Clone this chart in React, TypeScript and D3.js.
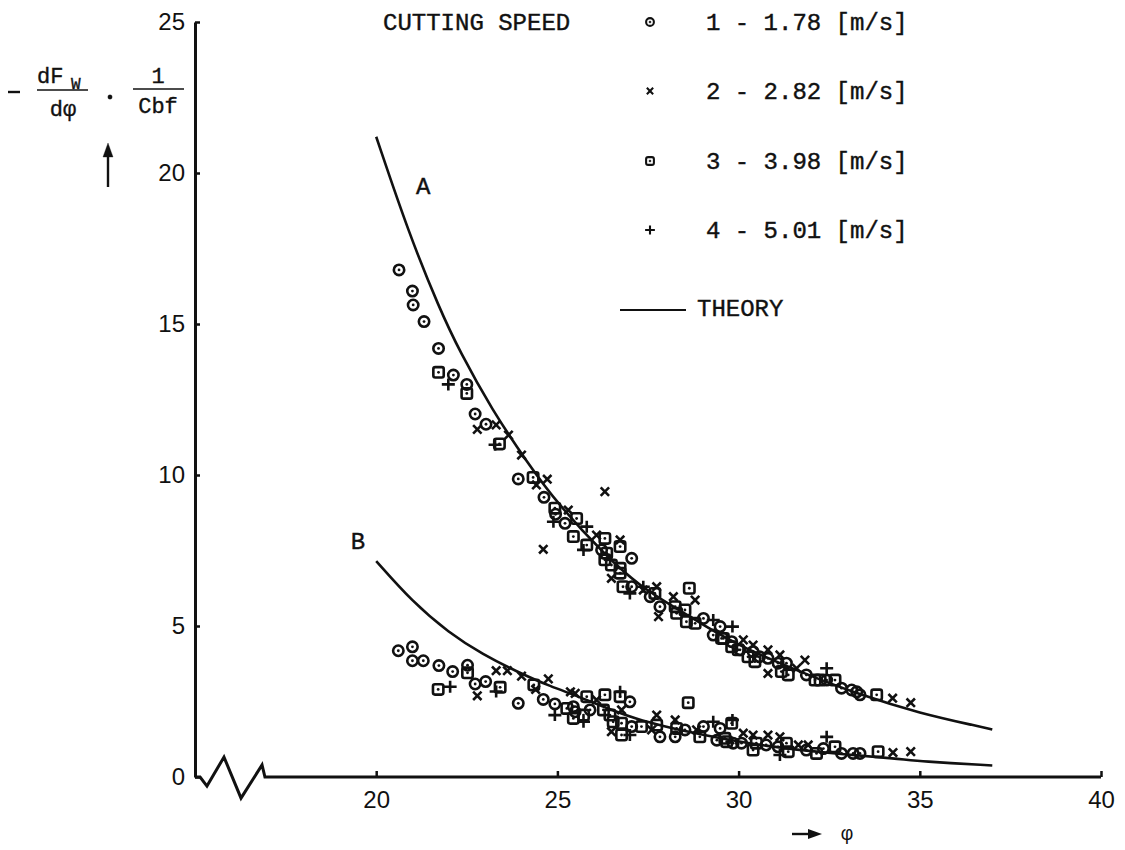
import React, { useEffect, useRef } from "react";
import * as d3 from "d3";

type Pt = [number, number];

const xTicks = [20, 25, 30, 35, 40];
const yTicks = [0, 5, 10, 15, 20, 25];

const speedLabels = ["1 - 1.78 [m/s]", "2 - 2.82 [m/s]", "3 - 3.98 [m/s]", "4 - 5.01 [m/s]"];

// theory curves A and B
const theoryA: Pt[] = [
  [20, 21.2], [20.9, 18.0], [21.75, 15.5], [22.3, 14.1], [23.2, 12.15], [24.15, 10.45],
  [25.0, 9.05], [26.35, 7.3], [27.3, 6.3], [28.2, 5.64], [29.1, 4.98], [30.0, 4.35],
  [31.8, 3.43], [33.35, 2.72], [35.0, 2.11], [36.65, 1.67], [37.0, 1.57],
];
const theoryB: Pt[] = [
  [20, 7.15], [21.0, 5.8], [22.0, 4.78], [22.95, 4.05], [23.9, 3.48], [24.8, 3.0],
  [25.7, 2.62], [27.1, 1.9], [28.95, 1.4], [30.8, 1.0], [32.6, 0.78], [34.45, 0.6],
  [35.0, 0.52], [37.0, 0.38],
];

// 1 - 1.78 m/s (circles)
const speed1: Pt[] = [
  [20.63, 16.79], [21.0, 16.09], [21.02, 15.63], [21.32, 15.08], [21.72, 14.19], [22.13, 13.31],
  [22.5, 13.0], [22.73, 12.02], [23.03, 11.68], [23.92, 9.87], [24.63, 9.26], [24.95, 8.7],
  [25.21, 8.4], [26.22, 7.52], [27.05, 7.24], [27.05, 6.3], [27.56, 5.97], [27.83, 5.64],
  [29.03, 5.25], [29.3, 4.7], [29.81, 4.48], [29.49, 4.98], [30.04, 4.21], [30.4, 4.15],
  [30.58, 3.98], [30.81, 3.93], [31.09, 3.77], [31.32, 3.77], [31.87, 3.38], [32.43, 3.21],
  [32.84, 2.94], [33.12, 2.88], [33.26, 2.82], [33.35, 2.72],
  [20.61, 4.18], [21.0, 4.31], [21.0, 3.85], [21.3, 3.85], [21.73, 3.69], [22.11, 3.49],
  [22.52, 3.7], [22.73, 3.08], [23.02, 3.16], [23.92, 2.44], [24.61, 2.57], [24.93, 2.42],
  [25.44, 2.33], [25.49, 2.16], [25.9, 2.22], [27.0, 2.49], [27.05, 1.67], [27.83, 1.33],
  [28.25, 1.33], [28.52, 1.56], [29.03, 1.67], [29.4, 1.22], [29.49, 1.61], [29.85, 1.12],
  [30.08, 1.12], [30.76, 1.06], [31.09, 1.0], [31.87, 0.89], [32.34, 0.94], [32.84, 0.78],
  [33.16, 0.78], [33.35, 0.78],
];

// 2 - 2.82 m/s (crosses)
const speed2: Pt[] = [
  [22.79, 11.51], [23.31, 11.66], [23.65, 11.32], [24.01, 10.66], [24.42, 9.67], [24.72, 9.86],
  [26.31, 9.45], [24.61, 7.54], [25.3, 8.84], [26.08, 8.01], [26.73, 7.85], [26.49, 6.58],
  [27.37, 6.19], [27.74, 6.3], [27.79, 5.31], [28.2, 5.97], [28.8, 5.86], [30.13, 4.54],
  [30.4, 4.37], [30.81, 4.21], [30.81, 3.43], [31.14, 4.04], [31.6, 3.6], [31.83, 3.87],
  [34.25, 2.61], [34.75, 2.46],
  [22.79, 2.69], [23.31, 3.52], [23.62, 3.52], [24.01, 3.34], [24.4, 2.9], [24.75, 3.25],
  [25.36, 2.82], [25.49, 2.77], [26.08, 2.55], [26.77, 2.22], [26.49, 1.5], [27.74, 2.05],
  [27.6, 1.56], [28.25, 1.89], [28.84, 1.56], [30.13, 1.45], [30.4, 1.39], [30.81, 1.39],
  [31.14, 1.33], [31.65, 1.06], [31.92, 1.06], [34.26, 0.81], [34.75, 0.84],
];

// 3 - 3.98 m/s (squares)
const speed3: Pt[] = [
  [21.72, 13.4], [22.5, 12.7], [23.4, 11.03], [24.33, 9.92], [24.93, 8.9], [25.53, 8.56],
  [25.44, 7.96], [25.81, 7.68], [26.31, 7.9], [26.73, 7.63], [26.36, 7.41], [26.31, 7.19],
  [26.49, 7.02], [26.73, 6.91], [26.73, 6.75], [26.81, 6.3], [27.69, 6.08], [28.25, 5.64],
  [28.29, 5.42], [28.52, 5.53], [28.64, 6.25], [28.56, 5.14], [28.8, 5.09], [29.53, 4.59],
  [29.99, 4.21], [29.58, 4.59], [29.81, 4.31], [30.26, 3.98], [30.45, 3.82], [31.18, 3.49],
  [31.37, 3.38], [32.11, 3.21], [32.25, 3.21], [32.66, 3.21], [33.81, 2.72],
  [21.71, 2.9], [22.52, 3.45], [23.42, 2.97], [24.35, 3.05], [25.26, 2.27], [25.81, 2.66],
  [25.72, 2.05], [25.44, 1.94], [26.31, 2.72], [26.27, 2.22], [26.45, 2.05], [26.73, 2.66],
  [26.54, 1.83], [26.77, 1.78], [26.77, 1.39], [27.32, 1.67], [27.74, 1.72], [28.29, 1.61],
  [28.61, 2.46], [28.93, 1.33], [29.81, 1.78], [29.67, 1.17], [29.62, 1.28], [30.49, 1.12],
  [30.4, 0.89], [31.32, 1.12], [31.37, 0.84], [32.15, 0.78], [32.66, 1.0], [33.85, 0.84],
];

// 4 - 5.01 m/s (plus)
const speed4: Pt[] = [
  [21.99, 13.0], [23.28, 11.0], [24.89, 8.45], [25.81, 8.29], [25.72, 7.52], [27.0, 6.08],
  [27.37, 6.3], [29.3, 5.2], [29.83, 4.98], [32.43, 3.6],
  [22.04, 2.99], [23.31, 2.83], [24.93, 2.05], [25.72, 1.83], [26.73, 2.82], [27.0, 1.39],
  [29.3, 1.83], [29.83, 1.89], [31.14, 0.73], [32.43, 1.33],
];

// zigzag break on the x axis, in axis units
const axisBreak: Pt[] = [
  [15, 0], [15.14, 0], [15.33, -0.3], [15.8, 0.66], [16.27, -0.7], [16.85, 0.4], [16.93, 0],
];

const INK = "#111";
const MONO = "'Liberation Mono', 'DejaVu Sans Mono', monospace";
const SANS = "'Liberation Sans', Arial, sans-serif";

type Sel = d3.Selection<SVGGElement, unknown, null, undefined>;

function drawMarker(g: Sel, kind: number, s: number) {
  const sw = 2.6 * Math.max(s, 0.8);
  if (kind === 0) {
    g.append("circle").attr("r", 5.2 * s).attr("fill", "none").attr("stroke", INK).attr("stroke-width", sw);
    g.append("circle").attr("r", 1.4 * s).attr("fill", INK);
  } else if (kind === 1) {
    const a = 4.2 * s;
    g.append("path")
      .attr("d", `M${-a},${-a}L${a},${a}M${-a},${a}L${a},${-a}`)
      .attr("stroke", INK).attr("stroke-width", sw);
  } else if (kind === 2) {
    const a = 5.2 * s;
    g.append("rect").attr("x", -a).attr("y", -a).attr("width", 2 * a).attr("height", 2 * a)
      .attr("rx", 2).attr("fill", "none").attr("stroke", INK).attr("stroke-width", sw);
    g.append("circle").attr("r", 1.4 * s).attr("fill", INK);
  } else {
    const w = 6.5 * s, h = 6 * s;
    g.append("path")
      .attr("d", `M${-w},0H${w}M0,${-h}V${h}`)
      .attr("stroke", INK).attr("stroke-width", sw);
  }
}

export default function App() {
  const ref = useRef<SVGSVGElement>(null);

  useEffect(() => {
    const svg = d3.select(ref.current);
    svg.selectAll("*").remove();

    const x = d3.scaleLinear().domain([15, 40]).range([195, 1101]);
    const y = d3.scaleLinear().domain([0, 25]).range([777, 22]);

    // y axis
    const yAxis = svg.append("g")
      .attr("transform", `translate(${x(15)},0)`)
      .call(d3.axisLeft(y).tickValues(yTicks).tickSizeInner(-5).tickSizeOuter(0).tickPadding(10));
    yAxis.select(".domain").attr("stroke", INK).attr("stroke-width", 3);
    yAxis.selectAll(".tick line").attr("stroke", INK).attr("stroke-width", 2.5);
    yAxis.selectAll(".tick text").attr("font-family", SANS).attr("font-size", 24).attr("fill", INK);

    // x axis, the domain is drawn separately because of the break
    const xAxis = svg.append("g")
      .attr("transform", `translate(0,${y(0)})`)
      .call(d3.axisBottom(x).tickValues(xTicks).tickSizeInner(-6).tickSizeOuter(0).tickPadding(14));
    xAxis.select(".domain").remove();
    xAxis.selectAll(".tick line").attr("stroke", INK).attr("stroke-width", 2.5);
    xAxis.selectAll(".tick text").attr("font-family", SANS).attr("font-size", 24).attr("fill", INK);

    const line = d3.line<Pt>().x((d) => x(d[0])).y((d) => y(d[1]));
    svg.append("path")
      .attr("d", line([...axisBreak, [40, 0]]))
      .attr("fill", "none").attr("stroke", INK).attr("stroke-width", 3)
      .attr("stroke-linejoin", "miter");

    // theory curves
    const curve = d3.line<Pt>().x((d) => x(d[0])).y((d) => y(d[1])).curve(d3.curveBasis);
    [theoryA, theoryB].forEach((c) => {
      svg.append("path").attr("d", curve(c)).attr("fill", "none")
        .attr("stroke", INK).attr("stroke-width", 2.6);
    });

    // measured points
    [speed1, speed2, speed3, speed4].forEach((data, k) => {
      data.forEach((d) => {
        const g = svg.append("g").attr("transform", `translate(${x(d[0])},${y(d[1])})`) as unknown as Sel;
        drawMarker(g, k, 1);
      });
    });

    // curve labels
    const lab = svg.append("g").attr("font-family", MONO).attr("font-size", 24)
      .attr("fill", INK).attr("stroke", INK).attr("stroke-width", 0.4);
    lab.append("text").attr("x", x(21.1)).attr("y", y(19.3)).text("A");
    lab.append("text").attr("x", x(19.3)).attr("y", y(7.55)).text("B");

    // legend
    const leg = svg.append("g").attr("font-family", MONO).attr("font-size", 24)
      .attr("fill", INK).attr("stroke", INK).attr("stroke-width", 0.4);
    leg.append("text").attr("x", 383).attr("y", 22).attr("dy", "0.35em").text("CUTTING SPEED");
    const rowY = [22, 91, 161, 230];
    speedLabels.forEach((t, i) => {
      const g = leg.append("g").attr("transform", `translate(650,${rowY[i]})`) as unknown as Sel;
      drawMarker(g, i, 0.75);
      leg.append("text").attr("x", 706).attr("y", rowY[i]).attr("dy", "0.35em").text(t);
    });
    leg.append("line").attr("x1", 620).attr("x2", 686).attr("y1", 310).attr("y2", 310)
      .attr("stroke", INK).attr("stroke-width", 2);
    leg.append("text").attr("x", 697).attr("y", 308).attr("dy", "0.35em").text("THEORY");

    // y axis label
    const yl = svg.append("g").attr("font-family", MONO).attr("fill", INK)
      .attr("stroke", INK).attr("stroke-width", 0.35);
    yl.append("line").attr("x1", 8).attr("x2", 20).attr("y1", 92).attr("y2", 92)
      .attr("stroke", INK).attr("stroke-width", 2.4);
    yl.append("text").attr("x", 37).attr("y", 83).attr("font-size", 22).text("dF");
    yl.append("text").attr("x", 71).attr("y", 89).attr("font-size", 16).text("W");
    yl.append("line").attr("x1", 37).attr("x2", 88).attr("y1", 90).attr("y2", 90)
      .attr("stroke", INK).attr("stroke-width", 1.6);
    yl.append("text").attr("x", 63).attr("y", 116).attr("text-anchor", "middle").attr("font-size", 22).text("dφ");
    yl.append("circle").attr("cx", 110).attr("cy", 97).attr("r", 2.2).attr("fill", INK);
    yl.append("text").attr("x", 158).attr("y", 83).attr("text-anchor", "middle").attr("font-size", 22).text("1");
    yl.append("line").attr("x1", 133).attr("x2", 184).attr("y1", 89).attr("y2", 89)
      .attr("stroke", INK).attr("stroke-width", 1.6);
    yl.append("text").attr("x", 158).attr("y", 113).attr("text-anchor", "middle").attr("font-size", 22).text("Cbf");
    yl.append("line").attr("x1", 108).attr("x2", 108).attr("y1", 187).attr("y2", 152)
      .attr("stroke", INK).attr("stroke-width", 2.4);
    yl.append("path").attr("d", "M108,143L103,157L113,157Z").attr("fill", INK);

    // x axis label
    svg.append("line").attr("x1", 792).attr("x2", 810).attr("y1", 834).attr("y2", 834)
      .attr("stroke", INK).attr("stroke-width", 2.4);
    svg.append("path").attr("d", "M822,834L808,829L808,839Z").attr("fill", INK);
    svg.append("text").attr("x", 847).attr("y", 833).attr("dy", "0.35em").attr("text-anchor", "middle")
      .attr("font-family", MONO).attr("font-size", 20).attr("fill", INK).text("φ");
  }, []);

  return (
    <svg
      ref={ref}
      width={1125}
      height={850}
      style={{ position: "absolute", left: 0, top: 0, background: "#fff" }}
    />
  );
}
